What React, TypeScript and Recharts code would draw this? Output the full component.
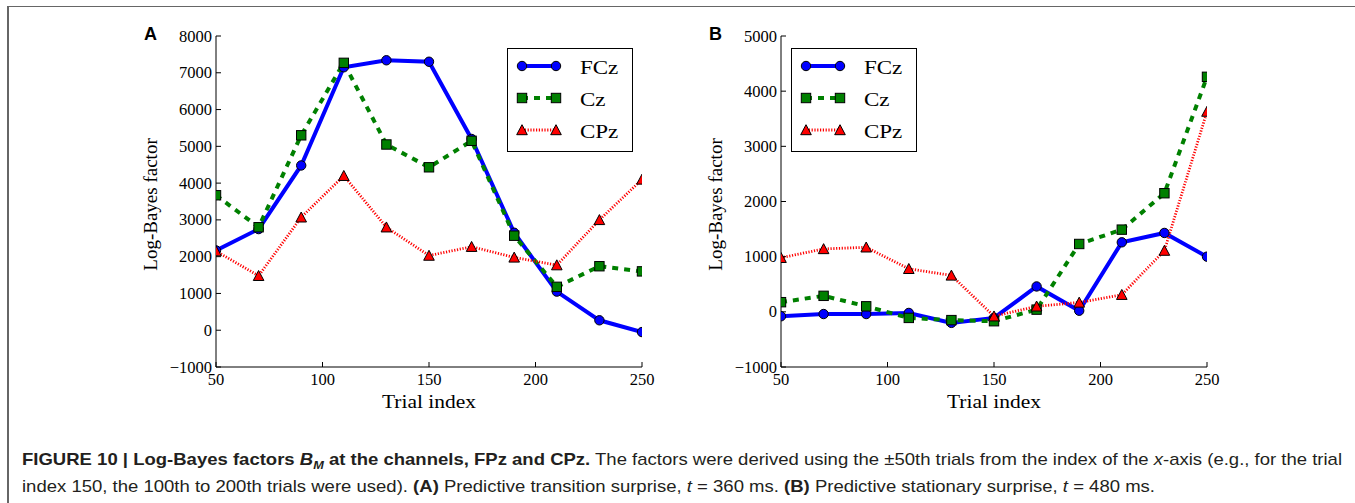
import React from 'react';
import { LineChart, Line, XAxis, YAxis, Legend } from 'recharts';

// trial index (centre of the ±50 window)
const trials = [50, 70, 90, 110, 130, 150, 170, 190, 210, 230, 250];
const xTicks = [50, 100, 150, 200, 250];
const channels = ['FCz', 'Cz', 'CPz'];

// (A) predictive transition surprise, t = 360 ms
const fczA = [2170, 2750, 4480, 7150, 7340, 7300, 5200, 2650, 1050, 270, -50];
const czA = [3670, 2800, 5300, 7270, 5050, 4430, 5150, 2570, 1180, 1740, 1600];
const cpzA = [2150, 1480, 3070, 4200, 2800, 2030, 2270, 1980, 1770, 3000, 4100];
const yTicksA = [-1000, 0, 1000, 2000, 3000, 4000, 5000, 6000, 7000, 8000];

// (B) predictive stationary surprise, t = 480 ms
const fczB = [-80, -40, -40, -20, -200, -110, 460, 20, 1260, 1430, 1000];
const czB = [175, 290, 100, -110, -150, -170, 40, 1230, 1490, 2150, 4260];
const cpzB = [980, 1140, 1170, 780, 660, -80, 100, 170, 310, 1110, 3630];
const yTicksB = [-1000, 0, 1000, 2000, 3000, 4000, 5000];

const serif = '"Liberation Serif", "DejaVu Serif", serif';
const sans = '"Liberation Sans", Arial, sans-serif';

const look: Record<string, any> = {
  FCz: { color: '#0000ff', width: 4, dash: undefined, marker: 'circle' },
  Cz: { color: '#008000', width: 4, dash: '6 6', marker: 'square' },
  CPz: { color: '#ff0000', width: 2.8, dash: '1.2 1.6', marker: 'triangle' },
};

const marker = (kind: string, cx: number, cy: number, fill: string, key?: any) => {
  if (kind === 'circle')
    return <circle key={key} cx={cx} cy={cy} r={4.7} fill={fill} stroke="#000" strokeWidth={1} />;
  if (kind === 'square')
    return <rect key={key} x={cx - 4.7} y={cy - 4.7} width={9.4} height={9.4} fill={fill} stroke="#000" strokeWidth={1} />;
  return (
    <polygon
      key={key}
      points={`${cx},${cy - 5.3} ${cx - 5.3},${cy + 4.7} ${cx + 5.3},${cy + 4.7}`}
      fill={fill}
      stroke="#000"
      strokeWidth={1}
    />
  );
};

const fmt = (v: number) => (v < 0 ? '\u2212' + Math.abs(v) : String(v));

const XTick = ({ x, y, payload }: any) => (
  <text x={x} y={y} dy="0.71em" textAnchor="middle" fontFamily={serif} fontSize={16.5} fill="#000">
    {fmt(payload.value)}
  </text>
);

const YTick = ({ x, y, payload }: any) => (
  <text x={x} y={y} dy="0.34em" textAnchor="end" fontFamily={serif} fontSize={16.5} fill="#000">
    {fmt(payload.value)}
  </text>
);

const noLabel = () => <g />;

const YTitle = ({ viewBox }: any) => {
  const cx = viewBox.x + viewBox.width / 2 - 23;
  const cy = viewBox.y + viewBox.height / 2 + 3;
  return (
    <text
      transform={`translate(${cx},${cy}) rotate(-90)`}
      textAnchor="middle"
      dominantBaseline="central"
      fontFamily={serif}
      fontSize={19}
      fill="#000"
    >
      Log-Bayes factor
    </text>
  );
};

const XTitle = ({ viewBox }: any) => (
  <text
    transform={`translate(${viewBox.x + viewBox.width / 2},${viewBox.y + 41}) scale(1.13,1)`}
    textAnchor="middle"
    fontFamily={serif}
    fontSize={19}
    fill="#000"
  >
    Trial index
  </text>
);

const LegendBox = ({ payload }: any) => {
  const items = [...(payload || [])].sort((a: any, b: any) => channels.indexOf(a.value) - channels.indexOf(b.value));
  return (
    <svg width={126} height={105} style={{ display: 'block' }}>
      <rect x={0.5} y={0.5} width={125} height={103} fill="#fff" stroke="#000" strokeWidth={1} />
      {items.map((p: any, i: number) => {
        const s = look[p.value];
        const cy = 18 + i * 32;
        return (
          <g key={p.value}>
            <line x1={15} x2={49} y1={cy} y2={cy} stroke={s.color} strokeWidth={s.width} strokeDasharray={s.dash} />
            {marker(s.marker, 15, cy, s.color)}
            {marker(s.marker, 49, cy, s.color)}
            <text transform={`translate(73,${cy + 7.5}) scale(1.18,1)`} fontFamily={serif} fontSize={19.5} fill="#000">
              {p.value}
            </text>
          </g>
        );
      })}
    </svg>
  );
};

interface PanelProps {
  left: number;
  fcz: number[];
  cz: number[];
  cpz: number[];
  yTicks: number[];
  legendLeft: number;
}

const Panel = ({ left, fcz, cz, cpz, yTicks, legendLeft }: PanelProps) => {
  const data = trials.map((t, i) => ({ trial: t, FCz: fcz[i], Cz: cz[i], CPz: cpz[i] }));
  const yDomain = [yTicks[0], yTicks[yTicks.length - 1]];
  return (
    <div style={{ position: 'absolute', left, top: 20 }}>
      <LineChart width={542} height={402} data={data} margin={{ top: 16, right: 30, bottom: 0, left: 0 }}>
        <XAxis
          dataKey="trial"
          type="number"
          domain={[50, 250]}
          ticks={xTicks}
          interval={0}
          allowDataOverflow
          height={55}
          tick={<XTick />}
          tickSize={-5}
          tickMargin={11}
          axisLine={{ stroke: '#000' }}
          tickLine={{ stroke: '#000' }}
          label={<XTitle />}
        />
        <XAxis
          xAxisId="top"
          orientation="top"
          dataKey="trial"
          type="number"
          domain={[50, 250]}
          ticks={xTicks}
          interval={0}
          allowDataOverflow
          height={0}
          tick={noLabel}
          tickSize={-5}
          axisLine={{ stroke: '#000' }}
          tickLine={{ stroke: '#000' }}
        />
        <YAxis
          type="number"
          domain={yDomain}
          ticks={yTicks}
          interval={0}
          allowDataOverflow
          width={86}
          tick={<YTick />}
          tickSize={-5}
          tickMargin={9}
          axisLine={{ stroke: '#000' }}
          tickLine={{ stroke: '#000' }}
          label={<YTitle />}
        />
        <YAxis
          yAxisId="right"
          orientation="right"
          type="number"
          domain={yDomain}
          ticks={yTicks}
          interval={0}
          allowDataOverflow
          width={0}
          tick={noLabel}
          tickSize={-5}
          axisLine={{ stroke: '#000' }}
          tickLine={{ stroke: '#000' }}
        />
        {channels.map((key) => {
          const st = look[key];
          return (
            <Line
              key={key}
              type="linear"
              dataKey={key}
              name={key}
              stroke={st.color}
              strokeWidth={st.width}
              strokeDasharray={st.dash}
              dot={(p: any) => marker(st.marker, p.cx, p.cy, st.color, `${key}-${p.index}`)}
              activeDot={false}
              isAnimationActive={false}
            />
          );
        })}
        <Legend
          layout="horizontal"
          verticalAlign="middle"
          content={<LegendBox />}
          wrapperStyle={{ position: 'absolute', left: legendLeft, top: 28, width: 126, height: 105 }}
        />
      </LineChart>
    </div>
  );
};

export default function App() {
  return (
    <div
      style={{
        position: 'absolute',
        left: 0,
        top: 0,
        width: 1355,
        height: 503,
        background: '#fff',
        overflow: 'hidden',
        fontFamily: serif,
      }}
    >
      <div style={{ position: 'absolute', left: 8, top: 6, width: 1347, height: 1, background: '#666' }} />
      <div style={{ position: 'absolute', left: 7, top: 6, width: 2, height: 497, background: '#666' }} />

      <div style={{ position: 'absolute', left: 144, top: 24, fontFamily: sans, fontWeight: 'bold', fontSize: 18, lineHeight: '20px' }}>A</div>
      <div style={{ position: 'absolute', left: 709, top: 24, fontFamily: sans, fontWeight: 'bold', fontSize: 18, lineHeight: '20px' }}>B</div>

      <Panel left={130} fcz={fczA} cz={czA} cpz={cpzA} yTicks={yTicksA} legendLeft={377} />
      <Panel left={695} fcz={fczB} cz={czB} cpz={cpzB} yTicks={yTicksB} legendLeft={96} />

      <svg style={{ position: 'absolute', left: 0, top: 440 }} width={1355} height={63}>
        <g transform="translate(22,0) scale(1.158,1)" fontFamily={sans} fontSize={16} fill="#231f20">
          <text x={0} y={25}>
            <tspan fontWeight="bold">FIGURE 10 | Log-Bayes factors </tspan>
            <tspan fontWeight="bold" fontStyle="italic">B</tspan>
            <tspan fontWeight="bold" fontStyle="italic" fontSize={11} dy={4}>M</tspan>
            <tspan fontWeight="bold" dy={-4}> at the channels, FPz and CPz.</tspan>
            <tspan> The factors were derived using the ±50th trials from the index of the </tspan>
            <tspan fontStyle="italic">x</tspan>
            <tspan>-axis (e.g., for the trial</tspan>
          </text>
          <text x={0} y={52}>
            <tspan>index 150, the 100th to 200th trials were used). </tspan>
            <tspan fontWeight="bold">(A)</tspan>
            <tspan> Predictive transition surprise, </tspan>
            <tspan fontStyle="italic">t</tspan>
            <tspan> = 360 ms. </tspan>
            <tspan fontWeight="bold">(B)</tspan>
            <tspan> Predictive stationary surprise, </tspan>
            <tspan fontStyle="italic">t</tspan>
            <tspan> = 480 ms.</tspan>
          </text>
        </g>
      </svg>
    </div>
  );
}
